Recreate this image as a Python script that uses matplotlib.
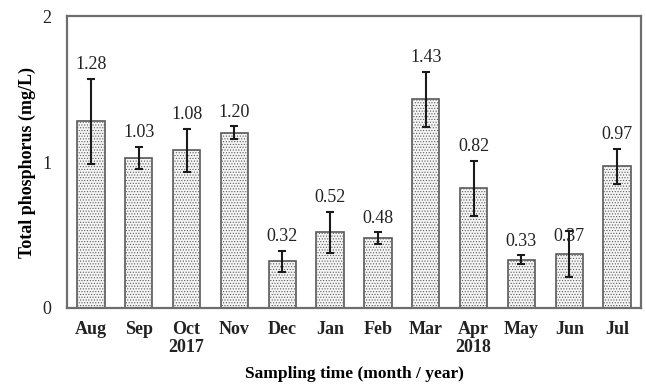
import matplotlib
matplotlib.use("Agg")
import matplotlib.pyplot as plt

plt.rcParams['font.family'] = ['Liberation Serif', 'DejaVu Serif']
plt.rcParams['hatch.color'] = '#d2d2d2'
plt.rcParams['hatch.linewidth'] = 0.5

months = ['Aug', 'Sep', 'Oct\n2017', 'Nov', 'Dec', 'Jan', 'Feb', 'Mar', 'Apr\n2018', 'May', 'Jun', 'Jul']
tp_mean = [1.28, 1.03, 1.08, 1.20, 0.32, 0.52, 0.48, 1.43, 0.82, 0.33, 0.37, 0.97]
tp_sd = [0.29, 0.075, 0.15, 0.045, 0.072, 0.14, 0.04, 0.19, 0.19, 0.03, 0.16, 0.12]
label_text = ['1.28', '1.03', '1.08', '1.20', '0.32', '0.52', '0.48', '1.43', '0.82', '0.33', '0.37', '0.97']

fig = plt.figure(figsize=(6.46, 3.85), dpi=100)
ax = fig.add_axes([0.1037, 0.2, 0.8886, 0.758])

x = list(range(len(months)))
ax.bar(x, tp_mean, width=0.57, color='#f5f5f5', edgecolor='#5a5a5a',
       linewidth=1.2, hatch='......', zorder=2)
ax.errorbar(x, tp_mean, yerr=tp_sd, fmt='none', ecolor='#1a1a1a',
            elinewidth=1.5, capsize=3, capthick=1.5, zorder=3)

# value annotations sit just above the upper whisker (Jun sits lower, overlapping it)
offsets = [4, 4, 4, 4, 4, 4, 4, 4, 4, 4, -10, 4]
for xi, m, s, t, off in zip(x, tp_mean, tp_sd, label_text, offsets):
    ax.annotate(t, (xi, m + s), xytext=(0, off), textcoords='offset points',
                ha='center', va='bottom', fontsize=13, color='#222222', zorder=2.5)

ax.set_xlim(-0.5, len(months) - 0.5)
ax.set_ylim(0, 2)
ax.set_yticks([0, 1, 2])
ax.set_yticklabels(['0', '1', '2'])
ax.set_xticks(x)
ax.set_xticklabels(months, fontweight='bold', linespacing=1.15)
ax.tick_params(axis='both', length=0, labelsize=13, colors='#222222')
ax.tick_params(axis='x', pad=9)
ax.tick_params(axis='y', pad=11)

for sp in ax.spines.values():
    sp.set_color('#6e6e6e')
    sp.set_linewidth(1.6)

ax.set_ylabel('Total phosphorus (mg/L)', fontweight='bold', fontsize=13, labelpad=5)
ax.set_xlabel('Sampling time (month / year)', fontweight='bold', fontsize=12.5, labelpad=7)

fig.savefig('out.png', dpi=100)
